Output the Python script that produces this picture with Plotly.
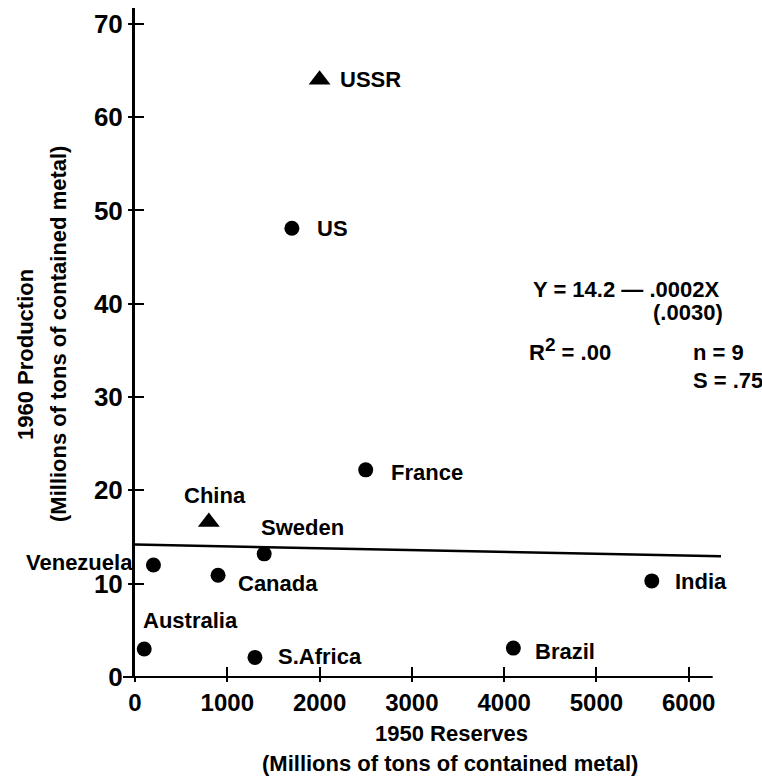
import plotly.graph_objects as go

# ---------------- data ----------------
countries = ["USSR", "US", "France", "China", "Sweden", "Venezuela",
             "Canada", "Australia", "S.Africa", "Brazil", "India"]
reserves_1950 = [2000, 1700, 2500, 800, 1400, 200, 900, 100, 1300, 4100, 5600]
production_1960 = [64.0, 48.1, 22.2, 16.6, 13.2, 12.0, 10.9, 3.0, 2.1, 3.1, 10.3]
marker_kind = ["triangle", "circle", "circle", "triangle", "circle", "circle",
               "circle", "circle", "circle", "circle", "circle"]

reg_intercept = 14.2
reg_slope = -0.0002
reg_x_span = [0, 6350]

x_ticks = [0, 1000, 2000, 3000, 4000, 5000, 6000]
y_ticks = [0, 10, 20, 30, 40, 50, 60, 70]

eq_lines = ["Y = 14.2 — .0002X", "(.0030)",
            "R<sup><span style='font-size:19px'>2</span></sup> = .00", "n = 9", "S = .75"]
x_title = ["1950 Reserves", "(Millions of tons of contained metal)"]
y_title = ["1960 Production", "(Millions of tons of contained metal)"]

# ---------------- styling / layout ----------------
FONT = "Liberation Sans, Arial, Helvetica, sans-serif"
W, H = 762, 779
L, R, T, B = 135, 41, 8, 102
PW, PH = W - L - R, H - T - B
XR = [0, 6350]
YR = [0, 71.7]


def px(xp):
    return (xp - L) / PW


def py(yp):
    return (H - B - yp) / PH


# label offsets (xanchor, xshift, yshift) in pixels
label_pos = {
    "USSR": ("left", 18, 0),
    "US": ("left", 23, 0),
    "France": ("left", 23, -3),
    "China": ("center", 6, 27),
    "Sweden": ("center", 38, 26),
    "Venezuela": ("right", -18, 3),
    "Canada": ("left", 18, -8),
    "Australia": ("left", -3, 29),
    "S.Africa": ("left", 21, 1),
    "Brazil": ("left", 20, -3),
    "India": ("left", 21, -1),
}

fig = go.Figure()

# regression line
fig.add_trace(go.Scatter(
    x=reg_x_span,
    y=[reg_intercept + reg_slope * v for v in reg_x_span],
    mode="lines", line=dict(color="black", width=2.5),
    showlegend=False, hoverinfo="skip"))

circ_x = [x for x, k in zip(reserves_1950, marker_kind) if k == "circle"]
circ_y = [y for y, k in zip(production_1960, marker_kind) if k == "circle"]
tri_x = [x for x, k in zip(reserves_1950, marker_kind) if k == "triangle"]
tri_y = [y for y, k in zip(production_1960, marker_kind) if k == "triangle"]

fig.add_trace(go.Scatter(x=circ_x, y=circ_y, mode="markers",
                         marker=dict(symbol="circle", size=15, color="black"),
                         showlegend=False, cliponaxis=False))
fig.add_trace(go.Scatter(x=tri_x, y=tri_y, mode="markers",
                         marker=dict(symbol="triangle-up", size=19, color="black"),
                         showlegend=False, cliponaxis=False))

# dummy trace for the overlay axes (inside tick halves)
fig.add_trace(go.Scatter(x=[None], y=[None], xaxis="x2", yaxis="y2",
                         showlegend=False, hoverinfo="skip"))

annotations = []
for c, x, y in zip(countries, reserves_1950, production_1960):
    xa, xs, ys = label_pos[c]
    annotations.append(dict(x=x, y=y, xref="x", yref="y", text=c, showarrow=False,
                            xanchor=xa, yanchor="middle", xshift=xs, yshift=ys,
                            font=dict(family=FONT, size=22, color="black", weight="bold")))

# equation block (left x pixel, center y pixel)
eq_pos = [(531, 289), (651, 312), (527, 349), (691, 353), (691, 380)]
for t, (xp, yp) in zip(eq_lines, eq_pos):
    annotations.append(dict(x=px(xp), y=py(yp), xref="paper", yref="paper", text=t,
                            showarrow=False, xanchor="left", yanchor="middle",
                            font=dict(family=FONT, size=22, color="black", weight="bold")))

# axis titles
for t, (xp, yp) in zip(x_title, [(451, 733), (450, 763)]):
    annotations.append(dict(x=px(xp), y=py(yp), xref="paper", yref="paper", text=t,
                            showarrow=False, xanchor="center", yanchor="middle",
                            font=dict(family=FONT, size=22, color="black", weight="bold")))
for t, (xp, yp) in zip(y_title, [(25, 355), (58, 334)]):
    annotations.append(dict(x=px(xp), y=py(yp), xref="paper", yref="paper", text=t,
                            showarrow=False, xanchor="center", yanchor="middle",
                            textangle=-90,
                            font=dict(family=FONT, size=22, color="black", weight="bold")))

fig.update_layout(
    width=W, height=H, autosize=False,
    margin=dict(l=L, r=R, t=T, b=B),
    paper_bgcolor="white", plot_bgcolor="white",
    showlegend=False,
    annotations=annotations,
    xaxis=dict(range=XR, tickvals=x_ticks, ticktext=[str(v) for v in x_ticks],
               showline=False, showgrid=False, zeroline=False,
               ticks="outside", ticklen=4, tickwidth=2, tickcolor="black",
               tickfont=dict(family=FONT, size=24, color="black", weight="bold"),
               ticklabelstandoff=0),
    yaxis=dict(range=YR, tickvals=y_ticks, ticktext=[str(v) for v in y_ticks],
               showline=True, linewidth=3, linecolor="black",
               showgrid=False, zeroline=False,
               ticks="outside", ticklen=4, tickwidth=2, tickcolor="black",
               tickfont=dict(family=FONT, size=26, color="black", weight="bold"),
               ticklabelstandoff=0),
    xaxis2=dict(range=XR, overlaying="x", anchor="y2", side="bottom",
                tickvals=x_ticks, showticklabels=False, showline=False,
                showgrid=False, zeroline=False,
                ticks="inside", ticklen=10, tickwidth=2, tickcolor="black"),
    yaxis2=dict(range=YR, overlaying="y", anchor="x2", side="left",
                tickvals=y_ticks, showticklabels=False, showline=False,
                showgrid=False, zeroline=False,
                ticks="inside", ticklen=9, tickwidth=2, tickcolor="black"),
    shapes=[dict(type="line", xref="paper", yref="paper",
                 x0=-12 / PW, x1=6260 / (XR[1] - XR[0]), y0=0, y1=0,
                 line=dict(color="black", width=2))],
)

fig.write_html("out.html")
